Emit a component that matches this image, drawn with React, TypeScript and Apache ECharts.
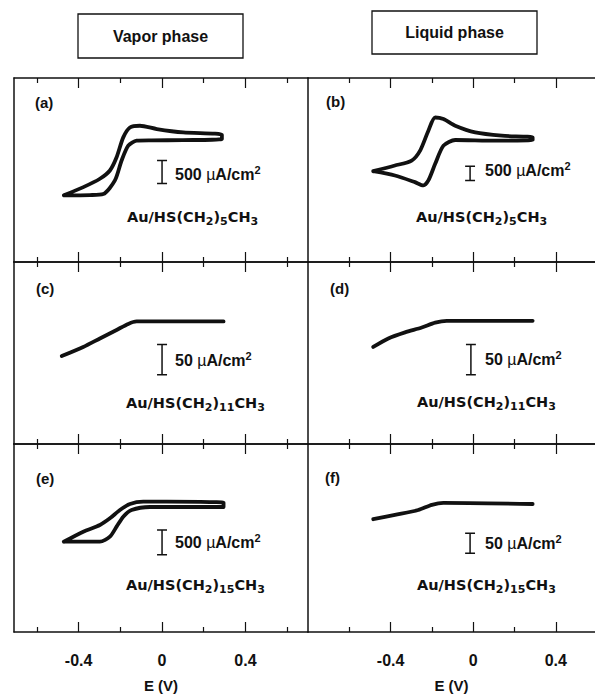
import React, { useEffect, useRef } from 'react';
import * as echarts from 'echarts';

// ---------- data ----------
const panelLabels = ['(a)', '(b)', '(c)', '(d)', '(e)', '(f)'];
const columnTitles = ['Vapor phase', 'Liquid phase'];
const scaleBarValues = [500, 500, 50, 50, 500, 50]; // µA/cm²
const chainLengths = ['5', '5', '11', '11', '15', '15'];
const majorTicks = [-0.4, 0, 0.4];
const minorTicks = [-0.6, -0.2, 0.2, 0.6];
const xAxisName = 'E (V)';

// E (V) vs current density (µA/cm²)
const cvA = [
  [-0.471, -551], [-0.38, -378], [-0.298, -190], [-0.25, -11], [-0.218, 277],
  [-0.186, 709], [-0.154, 925], [-0.106, 962], [-0.025, 891], [0.102, 817],
  [0.287, 768], [0.287, 675], [0.1, 650], [-0.05, 645], [-0.122, 638],
  [-0.162, 530], [-0.194, 206], [-0.226, -227], [-0.282, -523], [-0.346, -545],
  [-0.471, -551],
];
const cvB = [
  [-0.484, -42], [-0.379, 155], [-0.298, 328], [-0.257, 674], [-0.217, 1366],
  [-0.184, 1826], [-0.144, 1771], [-0.087, 1539], [0.01, 1307], [0.139, 1193],
  [0.288, 1134], [0.288, 1044], [0.107, 1020], [-0.087, 1044], [-0.144, 847],
  [-0.184, 214], [-0.217, -364], [-0.241, -537], [-0.282, -423], [-0.379, -191],
  [-0.484, -42],
];
const cvC = [
  [-0.481, -5], [-0.378, 10], [-0.298, 24], [-0.218, 38], [-0.162, 48],
  [-0.122, 52], [0.295, 52],
];
const cvD = [
  [-0.484, 10], [-0.411, 24], [-0.33, 34], [-0.249, 42], [-0.184, 50],
  [-0.128, 53], [0.288, 53],
];
const cvE = [
  [-0.471, -75], [-0.378, 128], [-0.298, 263], [-0.25, 398], [-0.202, 566],
  [-0.154, 687], [-0.09, 734], [0.023, 734], [0.295, 714], [0.295, 627],
  [-0.058, 627], [-0.146, 566], [-0.186, 431], [-0.218, 229], [-0.25, 27],
  [-0.298, -75], [-0.471, -75],
];
const cvF = [
  [-0.484, 47], [-0.379, 58], [-0.266, 70], [-0.2, 83], [-0.144, 88], [0.288, 85],
];
const curves = [cvA, cvB, cvC, cvD, cvE, cvF];

const yRanges = [[-2000, 2000], [-3200, 3200], [-150, 150], [-150, 150], [-1900, 1900], [-235, 235]];
const xRanges = [[-0.71, 0.7], [-0.8, 0.59]];
const scaleBarX = [0, -0.015, 0, -0.011, 0, -0.015];
const scaleBarTop = [205, 131, 14, 14, 162, 12];

// ---------- layout ----------
const W = 595;
const H = 696;
const rowTops = [78, 262, 444];
const rowHeights = [184, 182, 188];
const colLefts = [14, 308];
const colWidths = [294, 287];
const INK = '#111';
const FONT = '"Liberation Sans", Arial, Helvetica, sans-serif';
const FONT2 = '"DejaVu Sans", Verdana, sans-serif';

const scaleTextPos = [[175, 174], [485, 170], [175, 360], [485, 359], [175, 542], [485, 543]];
const formulaPos = [[127, 217], [416, 217], [126, 403], [417, 402], [126, 585], [417, 585]];
const labelPos = [[35, 102], [326, 101], [36, 288], [330, 288], [36, 478], [325, 477]];

function buildOption() {
  const grid: any[] = [];
  const xAxis: any[] = [];
  const yAxis: any[] = [];
  const series: any[] = [];
  const graphic: any[] = [];

  for (let p = 0; p < 6; p++) {
    const r = Math.floor(p / 2);
    const c = p % 2;
    const rect = { left: colLefts[c], top: rowTops[r], width: colWidths[c], height: rowHeights[r] };
    grid.push({ ...rect, containLabel: false });
    grid.push({ ...rect, containLabel: false });
    const [xmin, xmax] = xRanges[c];
    const [ymin, ymax] = yRanges[p];
    const bottomRow = r === 2;
    const fmt = (v: number) => (Math.abs(v) < 1e-9 ? '0' : v.toFixed(1));
    const base = { type: 'value', min: xmin, max: xmax, splitLine: { show: false } };
    xAxis.push({
      ...base, gridIndex: 2 * p, position: 'bottom',
      axisLine: { show: true, onZero: false, lineStyle: { color: INK, width: 1.5 } },
      axisTick: { show: true, inside: true, length: 10, customValues: majorTicks, lineStyle: { color: INK, width: 1.2 } },
      axisLabel: bottomRow
        ? { show: true, customValues: majorTicks, formatter: fmt, margin: 20, color: INK, fontSize: 16, fontWeight: 'bold', fontFamily: FONT }
        : { show: false },
      name: bottomRow ? xAxisName : '',
      nameLocation: 'middle', nameGap: 46,
      nameTextStyle: { color: INK, fontSize: 15, fontWeight: 'bold', fontFamily: FONT },
    });
    xAxis.push({
      ...base, gridIndex: 2 * p, position: 'top',
      axisLine: { show: true, onZero: false, lineStyle: { color: INK, width: 1.5 } },
      axisTick: { show: true, inside: true, length: 10, customValues: majorTicks, lineStyle: { color: INK, width: 1.2 } },
      axisLabel: { show: false },
    });
    xAxis.push({
      ...base, gridIndex: 2 * p + 1, position: 'bottom',
      axisLine: { show: false, onZero: false },
      axisTick: { show: true, inside: true, length: 5, customValues: minorTicks, lineStyle: { color: INK, width: 1.2 } },
      axisLabel: { show: false },
    });
    xAxis.push({
      ...base, gridIndex: 2 * p + 1, position: 'top',
      axisLine: { show: false, onZero: false },
      axisTick: { show: true, inside: true, length: 5, customValues: minorTicks, lineStyle: { color: INK, width: 1.2 } },
      axisLabel: { show: false },
    });
    yAxis.push({
      type: 'value', gridIndex: 2 * p, min: ymin, max: ymax, position: 'left',
      axisLine: { show: true, onZero: false, lineStyle: { color: INK, width: 1.5 } },
      axisTick: { show: false }, axisLabel: { show: false }, splitLine: { show: false },
    });
    yAxis.push({
      type: 'value', gridIndex: 2 * p + 1, min: ymin, max: ymax, show: false,
      splitLine: { show: false },
    });

    series.push({
      type: 'line', xAxisIndex: 4 * p, yAxisIndex: 2 * p,
      data: curves[p], symbol: 'none', smooth: 0.25,
      lineStyle: { color: INK, width: 3.8, cap: 'round', join: 'round' },
      z: 3,
    });
    const bx = scaleBarX[p];
    const bt = scaleBarTop[p];
    const bb = bt - scaleBarValues[p];
    const d = 0.024;
    series.push({
      type: 'line', xAxisIndex: 4 * p, yAxisIndex: 2 * p,
      data: [[bx - d, bt], [bx + d, bt], [bx, bt], [bx, bb], [bx - d, bb], [bx + d, bb]],
      symbol: 'none', smooth: false,
      lineStyle: { color: INK, width: 1.5 },
      z: 3,
    });

    graphic.push({
      type: 'text', x: labelPos[p][0], y: labelPos[p][1],
      style: { text: panelLabels[p], fill: INK, font: `bold 15px ${FONT}`, verticalAlign: 'middle', align: 'left' },
    });
    graphic.push({
      type: 'text', x: scaleTextPos[p][0], y: scaleTextPos[p][1],
      style: {
        text: `{n|${scaleBarValues[p]} }{mu|µ}{n|A/cm}{sup|2}`,
        verticalAlign: 'middle', align: 'left',
        rich: {
          n: { fill: INK, fontFamily: FONT, fontSize: 16, fontWeight: 'bold', lineHeight: 20 },
          mu: { fill: INK, fontFamily: FONT, fontSize: 16, fontWeight: 'normal', lineHeight: 20 },
          sup: { fill: INK, fontFamily: FONT, fontSize: 11, fontWeight: 'bold', lineHeight: 20, verticalAlign: 'top' },
        },
      },
    });
    graphic.push({
      type: 'text', x: formulaPos[p][0], y: formulaPos[p][1],
      style: {
        text: `{f|Au/HS(CH}{s|2}{f|)}{s|${chainLengths[p]}}{f|CH}{s|3}`,
        verticalAlign: 'middle', align: 'left',
        rich: {
          f: { fill: INK, fontFamily: FONT2, fontSize: 14.5, fontWeight: 'bold', lineHeight: 19 },
          s: { fill: INK, fontFamily: FONT2, fontSize: 11, fontWeight: 'bold', lineHeight: 19, verticalAlign: 'bottom' },
        },
      },
    });
  }

  const boxes = [
    { x: 78, y: 14, w: 165, h: 44 },
    { x: 372, y: 11, w: 165, h: 43 },
  ];
  boxes.forEach((b, i) => {
    graphic.push({
      type: 'rect', shape: { x: b.x, y: b.y, width: b.w, height: b.h },
      style: { fill: 'none', stroke: INK, lineWidth: 1.3 },
    });
    graphic.push({
      type: 'text', x: b.x + b.w / 2, y: b.y + b.h / 2,
      style: { text: columnTitles[i], fill: INK, font: `bold 16px ${FONT}`, align: 'center', verticalAlign: 'middle' },
    });
  });

  return {
    animation: false,
    backgroundColor: '#fff',
    grid, xAxis, yAxis, series, graphic,
  };
}

export default function App() {
  const ref = useRef<HTMLDivElement>(null);
  useEffect(() => {
    if (!ref.current) return;
    const chart = echarts.init(ref.current, null, { renderer: 'svg', width: W, height: H });
    chart.setOption(buildOption() as any);
    return () => chart.dispose();
  }, []);
  return <div ref={ref} style={{ position: 'absolute', left: 0, top: 0, width: W, height: H }} />;
}
